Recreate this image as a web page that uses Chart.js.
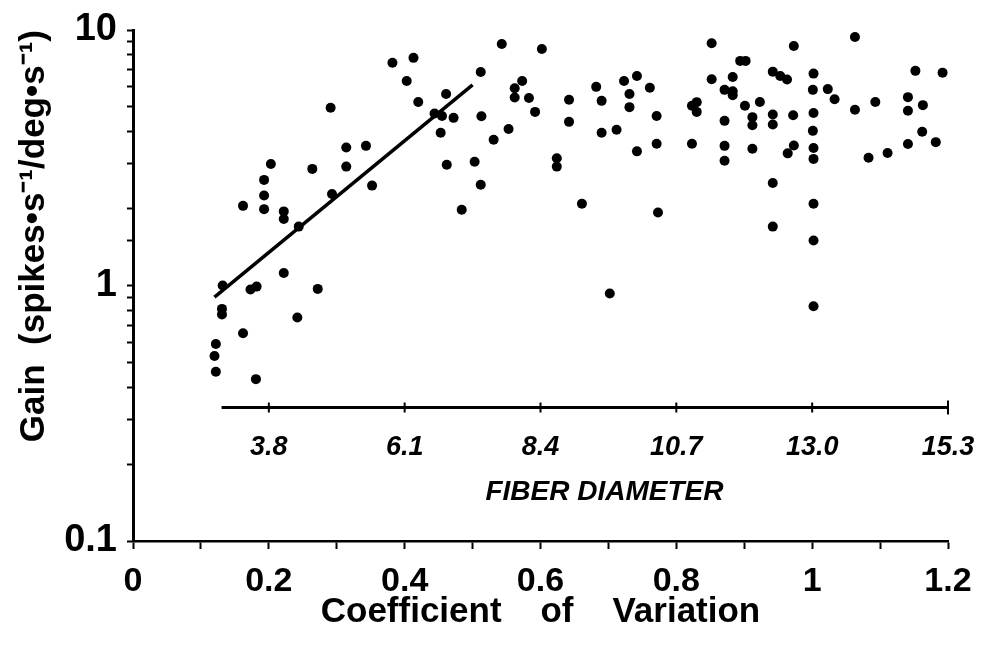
<!DOCTYPE html>
<html>
<head>
<meta charset="utf-8">
<script src="https://cdn.jsdelivr.net/npm/chart.js@4.4.1/dist/chart.umd.min.js"></script>
<style>
  html, body { margin: 0; padding: 0; background: #fff; }
</style>
</head>
<body>
<canvas id="gainChart" width="986" height="648"></canvas>
<script>
// coefficient of variation of each unit (x) and its gain (y)
const cvValues = [
  0.382, 0.413, 0.403, 0.420, 0.291, 0.314, 0.343, 0.203, 0.264, 0.314,
  0.193, 0.352, 0.293, 0.193, 0.162, 0.193, 0.222, 0.222, 0.543, 0.602,
  0.512, 0.461, 0.573, 0.562, 0.562, 0.583, 0.444, 0.455, 0.472, 0.513,
  0.453, 0.592, 0.642, 0.642, 0.553, 0.531, 0.462, 0.503, 0.512, 0.484,
  0.624, 0.624, 0.661, 0.682, 0.690, 0.723, 0.742, 0.731, 0.731, 0.761,
  0.771, 0.690, 0.712, 0.742, 0.771, 0.773, 0.823, 0.830, 0.830, 0.823,
  0.852, 0.973, 1.063, 0.894, 0.902, 0.852, 0.883, 0.942, 0.953, 0.963,
  1.002, 1.001, 1.023, 1.033, 1.152, 1.192, 0.871, 0.883, 0.883, 0.901,
  0.923, 0.871, 0.912, 0.912, 0.942, 0.942, 0.972, 1.002, 1.063, 1.093,
  1.141, 1.141, 1.163, 1.001, 0.871, 0.871, 0.912, 0.973, 0.964, 1.002,
  1.002, 1.083, 1.111, 1.141, 1.162, 1.182, 0.942, 1.002, 0.942, 1.002,
  0.702, 1.002, 0.132, 0.222, 0.173, 0.182, 0.272, 0.131, 0.131, 0.242,
  0.162, 0.122, 0.120, 0.122, 0.181, 0.244
];
const gainValues = [
  7.45, 7.78, 6.32, 5.23, 4.96, 3.47, 3.52, 2.99, 2.86, 2.92,
  2.59, 2.46, 2.28, 2.25, 2.05, 1.99, 1.95, 1.82, 8.82, 8.43,
  6.85, 5.62, 6.32, 5.92, 5.44, 5.42, 4.71, 4.61, 4.53, 4.60,
  3.96, 4.78, 5.33, 4.37, 4.10, 3.72, 2.97, 3.05, 2.48, 1.98,
  3.15, 2.92, 2.09, 5.99, 5.28, 6.32, 6.61, 5.62, 4.99, 5.94,
  4.61, 3.96, 4.07, 3.35, 3.59, 1.93, 5.05, 5.22, 4.78, 3.59,
  8.87, 8.66, 9.39, 7.57, 7.57, 6.42, 6.55, 6.87, 6.61, 6.40,
  6.75, 5.83, 5.87, 5.36, 6.92, 6.81, 5.83, 5.76, 5.56, 5.05,
  5.23, 4.41, 4.56, 4.24, 4.67, 4.27, 4.64, 4.73, 4.87, 5.23,
  5.46, 4.83, 5.08, 4.03, 3.52, 3.08, 3.43, 3.53, 3.29, 3.45,
  3.13, 3.16, 3.30, 3.58, 4.00, 3.64, 2.52, 2.09, 1.70, 1.50,
  0.93, 0.83, 1.00, 1.12, 0.965, 0.99, 0.97, 0.81, 0.77, 0.75,
  0.65, 0.59, 0.53, 0.46, 0.43, 1.70
];

// regression line ends
const fitCv = [0.12, 0.5];
const fitGain = [0.9, 6.1];

// tick labels
const cvTicks = [0, 0.2, 0.4, 0.6, 0.8, 1, 1.2];
const gainTicks = [0.1, 1, 10];
const fiberTicks = [3.8, 6.1, 8.4, 10.7, 13.0, 15.3];
const fiberLabels = ['3.8', '6.1', '8.4', '10.7', '13.0', '15.3'];
const fiberStart = 3.0;      // left end of the inset fiber axis line
const fiberAxisGain = 0.333; // height where the inset axis sits

// fiber diameter axis is a linear map of the CV axis: 3.8 at cv 0.2, 15.3 at cv 1.2
const fiberPerCv = (fiberTicks[fiberTicks.length - 1] - fiberTicks[0]) / (cvTicks[cvTicks.length - 1] - cvTicks[1]);
const fiberMin = fiberTicks[0] - cvTicks[1] * fiberPerCv;
const fiberMax = fiberTicks[fiberTicks.length - 1];

const fontFamily = "'Liberation Sans', Arial, Helvetica, sans-serif";
const ink = '#000';

const points = cvValues.map((cv, i) => ({ x: cv, y: gainValues[i] }));
const fitLine = fitCv.map((cv, i) => ({ x: cv, y: fitGain[i] }));

// draws the line, the tick marks and the title of the inset fiber diameter axis
const fiberAxisPlugin = {
  id: 'fiberAxis',
  afterDraw(chart) {
    const x2 = chart.scales.x2;
    const y = chart.scales.y;
    const ctx = chart.ctx;
    const yPix = y.getPixelForValue(fiberAxisGain);
    ctx.save();
    ctx.strokeStyle = ink;
    ctx.lineWidth = 3;
    ctx.beginPath();
    ctx.moveTo(x2.getPixelForValue(fiberStart), yPix);
    ctx.lineTo(x2.getPixelForValue(fiberMax), yPix);
    ctx.stroke();
    ctx.lineWidth = 2;
    fiberTicks.forEach((v, i) => {
      const px = x2.getPixelForValue(v);
      const h = i === fiberTicks.length - 1 ? 7 : 5;
      ctx.beginPath();
      ctx.moveTo(px, yPix - h);
      ctx.lineTo(px, yPix + h);
      ctx.stroke();
    });
    const mid = (x2.getPixelForValue(fiberTicks[0]) + x2.getPixelForValue(fiberMax)) / 2;
    ctx.fillStyle = ink;
    ctx.font = 'italic bold 28px ' + fontFamily;
    ctx.textAlign = 'center';
    ctx.textBaseline = 'middle';
    ctx.fillText('FIBER DIAMETER', mid - 4, yPix + 85);
    ctx.restore();
  }
};

const isTick = (list, v) => list.some(t => Math.abs(t - v) < 1e-6);

new Chart(document.getElementById('gainChart'), {
  type: 'scatter',
  data: {
    datasets: [
      {
        label: 'units',
        data: points,
        pointRadius: 5,
        pointHoverRadius: 5,
        pointBackgroundColor: ink,
        pointBorderWidth: 0,
        borderColor: ink
      },
      {
        type: 'line',
        label: 'fit',
        data: fitLine,
        borderColor: ink,
        borderWidth: 3.5,
        pointRadius: 0,
        fill: false
      }
    ]
  },
  options: {
    responsive: false,
    animation: false,
    layout: { padding: { top: 30, right: 38, left: 0, bottom: 0 } },
    plugins: {
      legend: { display: false },
      tooltip: { enabled: false }
    },
    scales: {
      x: {
        type: 'linear',
        min: 0,
        max: 1.2,
        afterBuildTicks: scale => {
          const t = [];
          for (let i = 0; i <= 12; i++) t.push({ value: i / 10 });
          scale.ticks = t;
        },
        afterFit: scale => { scale.height = 107; },
        border: { color: ink, width: 2.5 },
        grid: { drawOnChartArea: false, color: ink, tickColor: ink, tickLength: 8, tickWidth: 2 },
        ticks: {
          autoSkip: false,
          maxRotation: 0,
          padding: 12,
          color: ink,
          font: { family: fontFamily, size: 34, weight: 'bold' },
          callback: v => isTick(cvTicks, v) ? String(Math.round(v * 10) / 10) : ''
        },
        title: {
          display: true,
          text: 'Coefficient    of    Variation',
          color: ink,
          font: { family: fontFamily, size: 35, weight: 'bold' },
          padding: { top: 0, bottom: 15 }
        }
      },
      x2: {
        type: 'linear',
        axis: 'x',
        position: { y: fiberAxisGain },
        min: fiberMin,
        max: fiberMax,
        afterBuildTicks: scale => { scale.ticks = fiberTicks.map(v => ({ value: v })); },
        border: { display: false },
        grid: { display: true, drawOnChartArea: false, drawTicks: true, tickLength: 17, tickColor: 'rgba(0,0,0,0)' },
        ticks: {
          autoSkip: false,
          maxRotation: 0,
          padding: 7,
          color: ink,
          font: { family: fontFamily, size: 27, weight: 'bold', style: 'italic' },
          callback: (v, i) => fiberLabels[i]
        }
      },
      y: {
        type: 'logarithmic',
        position: 'left',
        min: 0.1,
        max: 10,
        afterFit: scale => { scale.width = 133; },
        border: { color: ink, width: 3 },
        grid: { drawOnChartArea: false, color: ink, tickColor: ink, tickLength: 6, tickWidth: 2 },
        ticks: {
          autoSkip: false,
          padding: 10,
          color: ink,
          font: { family: fontFamily, size: 38, weight: 'bold', lineHeight: 1 },
          callback: v => isTick(gainTicks, v) ? String(v) : ''
        },
        title: {
          display: true,
          align: 'end',
          text: 'Gain  (spikes\u2022s\u207B\u00B9/deg\u2022s\u207B\u00B9)',
          color: ink,
          font: { family: fontFamily, size: 35, weight: 'bold' },
          padding: { top: 13, bottom: 0 }
        }
      }
    }
  },
  plugins: [fiberAxisPlugin]
});
</script>
</body>
</html>
